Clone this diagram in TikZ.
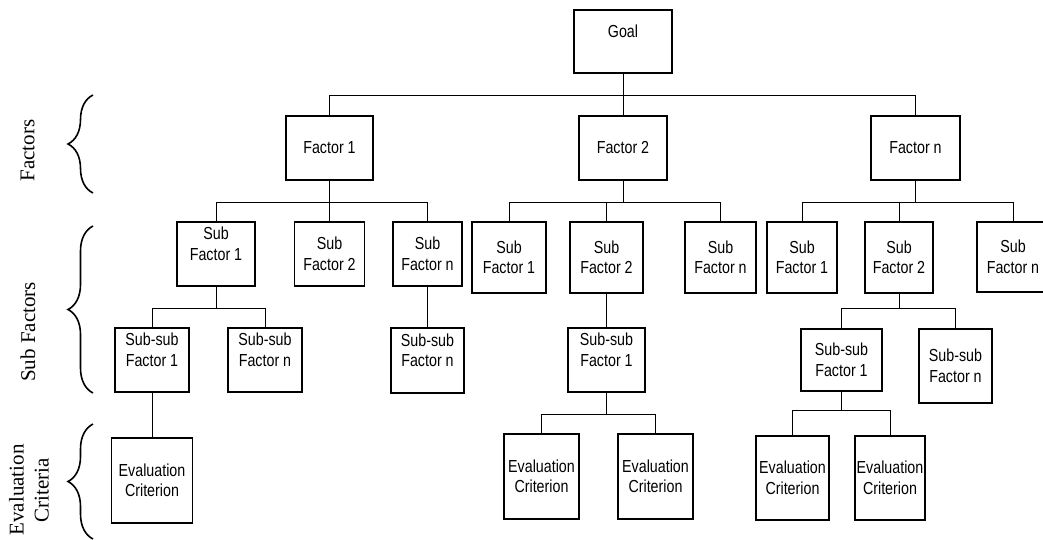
\documentclass[tikz,border=0pt]{standalone}
\usepackage{fontspec}
\setmainfont{Liberation Serif}
\newfontfamily\boxfont{Liberation Sans}[FakeStretch=0.82]
\usepackage{tikz}
\usetikzlibrary{decorations.pathreplacing}

\begin{document}
\begin{tikzpicture}[x=1pt, y=-1pt,
    box/.style = {draw, line width=1.3pt, align=center, inner sep=0pt,
                  font=\boxfont\fontsize{17.4}{20.5}\selectfont},
    link/.style = {line width=1pt},
    curly/.style = {line width=1.6pt, decorate, decoration={brace, amplitude=25pt}},
    side/.style = {font=\fontsize{21}{25}\selectfont, align=center, rotate=90}]
            \useasboundingbox (0,0) rectangle (1043,540);

            % levels on the left
            \node[side] (Lfac) at (27.5,150.5) {Factors};
            \node[side] (Lsub) at (28,332) {Sub Factors};
            \node[side] (Leval) at (29,490) {Evaluation\\Criteria};
            \draw[curly] (93,193) -- (93,95);
            \draw[curly] (93,393) -- (93,226);
            \draw[curly] (93,539) -- (93,424);

            % goal and factors
            \node[box, minimum width=98, minimum height=63] (goal) at (623,41.5) {Goal\\\mbox{}};
            \node[box, minimum width=87, minimum height=64] (F1) at (329.5,148) {Factor 1};
            \node[box, minimum width=88, minimum height=64] (F2) at (623,148) {Factor 2};
            \node[box, minimum width=89, minimum height=64] (Fn) at (915.5,148) {Factor n};

            \coordinate (bus0) at (0,96);
            \coordinate (bus1) at (0,202);
            \foreach \c in {F1,F2,Fn}
                \draw[link] (goal) -- (goal |- bus0) -| (\c);

            % factor 1
            \node[box, minimum width=78, minimum height=64] (F1S1) at (216,254) {Sub\\Factor 1\\\mbox{}};
            \node[box, minimum width=70, minimum height=64] (F1S2) at (329.5,254) {Sub\\Factor 2};
            \node[box, minimum width=69, minimum height=64] (F1Sn) at (427.5,254) {Sub\\Factor n};
            \foreach \c in {F1S1,F1S2,F1Sn}
                \draw[link] (F1) -- (F1 |- bus1) -| (\c);

            \node[box, minimum width=74, minimum height=64] (F1S1T1) at (152,360) {Sub-sub\\Factor 1\\\mbox{}};
            \node[box, minimum width=74, minimum height=64] (F1S1Tn) at (265,360) {Sub-sub\\Factor n\\\mbox{}};
            \node[box, minimum width=73, minimum height=65] (F1SnTn) at (427.5,360.5) {Sub-sub\\Factor n\\\mbox{}};
            \coordinate (bus2) at (0,308);
            \foreach \c in {F1S1T1,F1S1Tn}
                \draw[link] (F1S1) -- (F1S1 |- bus2) -| (\c);
            \draw[link] (F1Sn) -- (F1SnTn);

            \node[box, minimum width=81, minimum height=85] (F1S1T1E) at (152,480.5) {Evaluation\\Criterion};
            \draw[link] (F1S1T1) -- (F1S1T1E);

            % factor 2
            \node[box, minimum width=74, minimum height=71] (F2S1) at (509,257.5) {Sub\\Factor 1};
            \node[box, minimum width=73, minimum height=71] (F2S2) at (606.5,257.5) {Sub\\Factor 2};
            \node[box, minimum width=71, minimum height=71] (F2Sn) at (720.5,257.5) {Sub\\Factor n};
            \foreach \c in {F2S1,F2S2,F2Sn}
                \draw[link] (F2) -- (F2 |- bus1) -| (\c);

            \node[box, minimum width=77, minimum height=64] (F2S2T1) at (606.5,360) {Sub-sub\\Factor 1\\\mbox{}};
            \draw[link] (F2S2) -- (F2S2T1);

            \node[box, minimum width=75, minimum height=85] (F2S2T1E1) at (541.5,476.5) {Evaluation\\Criterion};
            \node[box, minimum width=75, minimum height=85] (F2S2T1E2) at (655.5,476.5) {Evaluation\\Criterion};
            \coordinate (bus3) at (0,414);
            \foreach \c in {F2S2T1E1,F2S2T1E2}
                \draw[link] (F2S2T1) -- (F2S2T1 |- bus3) -| (\c);

            % factor n
            \node[box, minimum width=70, minimum height=71] (FnS1) at (802,257.5) {Sub\\Factor 1};
            \node[box, minimum width=68, minimum height=71] (FnS2) at (899,257.5) {Sub\\Factor 2};
            \node[box, minimum width=72, minimum height=70] (FnSn) at (1013,257) {Sub\\Factor n};
            \foreach \c in {FnS1,FnS2,FnSn}
                \draw[link] (Fn) -- (Fn |- bus1) -| (\c);

            \node[box, minimum width=81, minimum height=62] (FnS2T1) at (841.5,360) {Sub-sub\\Factor 1};
            \node[box, minimum width=73, minimum height=74] (FnS2Tn) at (955.5,366) {Sub-sub\\Factor n};
            \foreach \c in {FnS2T1,FnS2Tn}
                \draw[link] (FnS2) -- (FnS2 |- bus2) -| (\c);

            \node[box, minimum width=73, minimum height=84] (FnS2T1E1) at (792.5,478) {Evaluation\\Criterion};
            \node[box, minimum width=70, minimum height=84] (FnS2T1E2) at (890,478) {Evaluation\\Criterion};
            \coordinate (bus4) at (0,410);
            \foreach \c in {FnS2T1E1,FnS2T1E2}
                \draw[link] (FnS2T1) -- (FnS2T1 |- bus4) -| (\c);
        \end{tikzpicture}
\end{document}
